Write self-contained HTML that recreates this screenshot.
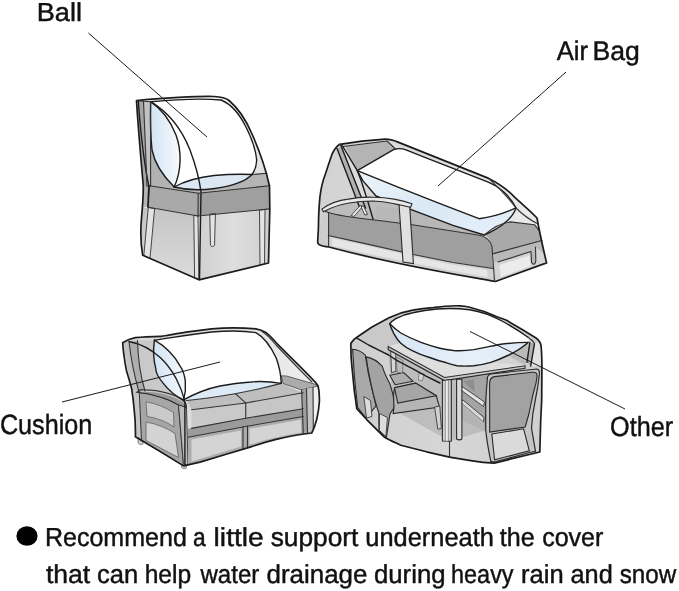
<!DOCTYPE html>
<html><head><meta charset="utf-8">
<style>
html,body{margin:0;padding:0;background:#fff;}
body{width:679px;height:591px;overflow:hidden;position:relative;font-family:"Liberation Sans",sans-serif;}
svg{position:absolute;left:0;top:0;display:block;}
text{font-family:"Liberation Sans",sans-serif;fill:#111;}
.ln{stroke:#1a1a1a;stroke-width:1;fill:none;}
.k{stroke:#1c1c1c;stroke-width:1.4;fill:none;stroke-linecap:round;stroke-linejoin:round;}
.k2{stroke:#1c1c1c;stroke-width:1.7;fill:none;stroke-linecap:round;stroke-linejoin:round;}
.t{stroke:#333;stroke-width:1.1;fill:none;stroke-linecap:round;stroke-linejoin:round;}
</style></head><body>
<svg width="679" height="591" viewBox="0 0 679 591">
<rect width="679" height="591" fill="#fff"/>
<g id="chair">
<defs>
<linearGradient id="cg1" x1="0" y1="0" x2="0" y2="1"><stop offset="0" stop-color="#c4c4c4"/><stop offset="1" stop-color="#dcdcdc"/></linearGradient>
<linearGradient id="cg2" x1="0" y1="0" x2="1" y2="0"><stop offset="0" stop-color="#d0d0d0"/><stop offset="0.5" stop-color="#dedede"/><stop offset="1" stop-color="#cfcfcf"/></linearGradient>
<linearGradient id="cg3" x1="0" y1="0" x2="1" y2="1"><stop offset="0" stop-color="#ffffff"/><stop offset="0.55" stop-color="#f0f0f0"/><stop offset="0.8" stop-color="#d2d2d2"/><stop offset="1" stop-color="#c6c6c6"/></linearGradient>
<linearGradient id="cb1" x1="0" y1="0" x2="1" y2="0"><stop offset="0" stop-color="#d3e4f4"/><stop offset="1" stop-color="#f6fafd"/></linearGradient>
</defs>
<!-- cover silhouette -->
<path d="M136.5,100.7 C160,98 200,96 214,96.5 C222,96.8 226,98 229,100.5 C238,108 246,120 252,134 C260,152 266,170 269.5,186 L269.8,209 L268.5,263 L199,279.8 L142.7,255.3 C140.8,245 140.3,232 141.5,218 C142.5,207 143.6,195 143.2,185 C141,160 138,125 136.5,100.7 Z" fill="url(#cg3)"/>
<!-- lower left face -->
<path d="M142.5,207 L198,216 L199,279.8 L142.7,255.3 L140.6,232 Z" fill="url(#cg1)"/>
<!-- lower front face -->
<path d="M198,216 L269.8,208.9 L268.5,263 L199,279.8 Z" fill="url(#cg2)"/>
<!-- chair back side -->
<path d="M137,100.8 L150.6,101.7 L150.6,186.5 L143.4,186.5 C141.5,160 138.5,125 137,100.8 Z" fill="#a6a6a6"/>
<path d="M143.5,101.3 L150.6,101.7 L150.6,186.5 L147,186.5 C146,160 144.5,125 143.5,101.3 Z" fill="#c2c2c2"/>
<!-- back front face below lens -->
<path d="M150.6,140 L150.6,186.5 L174.2,188 C165,178 155,165 150.6,140 Z" fill="#b2b2b2"/>
<!-- seat top -->
<path d="M149.5,185.8 L268.8,185.3 L268.8,186.5 L198.2,193.2 Z" fill="#b8b8b8"/>
<path d="M150,186.3 L176.5,186.3 L201,190.5 L252,174.5 L267,173.3 L269.5,186 L198.2,193.2 Z" fill="#b4b4b4"/>
<path class="t" d="M252,174.5 L267,173.3"/>
<!-- seat band -->
<path d="M143.3,186 L149.5,186 L148.4,207.3 L142.4,206.5 Z" fill="#b6b6b6"/>
<path d="M149.3,185.8 L198.2,193.2 L198,216 L148.3,207.3 Z" fill="#a9a9a9"/>
<path d="M198.2,193.2 L269.5,185.8 L269.8,208.9 L198,216 Z" fill="#9f9f9f"/>
<!-- legs -->
<path d="M148.3,207.5 L154.6,208.6 L150,258.3 L143.8,255.6 Z" fill="#e4e4e4" stroke="#444" stroke-width="1"/>
<path d="M193.8,215.3 L198,216 L198.8,279 L194.6,277.8 Z" fill="#e4e4e4" stroke="#444" stroke-width="1"/>
<path d="M209.8,214 L215.4,213.5 L214.6,244 C214.6,247.5 210.4,247.5 210.4,244 Z" fill="#e4e4e4" stroke="#444" stroke-width="1"/>
<path d="M259.5,210 L265,209.5 L264.5,263.8 L260,264.8 Z" fill="#e4e4e4" stroke="#444" stroke-width="1"/>
<!-- ball body -->
<path d="M150.6,101.7 C175,99.5 205,98.5 221,100 C231,104 240,115 246,127 C252,139 256,152 256.7,160 C256.5,166 254.5,171 252,174.5 C240,174 225,174.5 214,175.5 C200,177 186,180.5 174.2,187 C182,170 181.5,150 176,135 C170,120 160,108 150.6,101.7 Z" fill="#fff"/>
<!-- bottom ellipse (blue) -->
<path d="M174.2,187 C186,180.5 200,177 214,175.5 C225,174.5 240,174 252,174.5 C246,181 232,186 215,188.5 C200,190.5 186,190 174.2,187 Z" fill="#dbe8f4"/>
<!-- lens (blue) -->
<path d="M150.6,101.7 C160,108 170,120 176,135 C181.5,150 182,170 174.2,187 C164,177 155,165 152,150 C150.5,135 150.3,114 150.6,101.7 Z" fill="url(#cb1)"/>
<!-- ball outlines -->
<path class="k" d="M150.6,101.7 C175,99.5 205,98.5 221,100 C231,104 240,115 246,127 C252,139 256,152 256.7,160 C256.5,166 254.5,171 252,174.5"/>
<path class="k" d="M252,174.5 C240,174 225,174.5 214,175.5 C200,177 186,180.5 174.2,187"/>
<path class="k" d="M174.2,187 C186,190 200,190.5 215,188.5 C232,186 246,181 252,174.5"/>
<path class="k" d="M150.6,101.7 C160,108 170,120 176,135 C181.5,150 182,170 174.2,187"/>
<path class="k" d="M150.6,101.7 C150.3,114 150.5,135 152,150 C155,165 164,177 174.2,187"/>
<!-- seam arc -->
<path class="k" d="M150.6,101.7 C168,112 182,130 190,150 C196,166 199.5,180 201,192 L199.5,279.5"/>
<!-- structure lines -->
<path class="t" d="M149.3,185.8 L198.2,193.2 L269.5,185.8"/>
<path class="t" d="M148.3,207.3 L198,216 L269.8,208.9"/>
<path class="t" d="M149.4,185.8 L148.3,207.3"/>
<path class="t" d="M198.2,193.2 L198,216"/>
<path class="t" d="M150.6,101.7 L150.6,186.5"/>
<!-- cover outline -->
<path class="k2" d="M136.5,100.7 C160,98 200,96 214,96.5 C222,96.8 226,98 229,100.5 C238,108 246,120 252,134 C260,152 266,170 269.5,186 L269.8,209 L268.5,263 L199,279.8 L142.7,255.3 C140.8,245 140.3,232 141.5,218 C142.5,207 143.6,195 143.2,185 C141,160 138,125 136.5,100.7 Z"/>
<path class="t" d="M137,100.8 L150.6,101.7"/>
<path class="k" d="M138.3,101 C140,125 143.5,160 148.8,186 L147.8,207"/>
<path class="t" d="M143.5,101.3 C144.5,125 146,160 147,186.5"/>
</g>
<g id="lounger">
<defs>
<linearGradient id="lg1" x1="0" y1="0" x2="1" y2="0"><stop offset="0" stop-color="#d2d2d2"/><stop offset="0.25" stop-color="#d8d8d8"/><stop offset="1" stop-color="#ececec"/></linearGradient>
<linearGradient id="lg2" x1="0" y1="0" x2="1" y2="1"><stop offset="0" stop-color="#eef5fb"/><stop offset="0.5" stop-color="#d9e8f5"/><stop offset="1" stop-color="#e6f0f9"/></linearGradient>
</defs>
<!-- cover silhouette -->
<path d="M339.7,144.3 C350,142.5 370,140 384.8,139.2 C390,139 394,140.5 398,142.1 L488.7,178.4 C500,184 508,190 514.8,197.4 C522,204 530,211 537,218 C540,235 543.5,250 546.6,262.9 L495.4,281.5 C460,275 400,266 329,247 C322,246 317,245 317.7,241.3 C318.3,233 318.6,225 318.6,218.3 C318.8,210 319.2,204 319.9,197 C321,188 323,180 325.4,174 C328,166 330,160 332,154.2 C334,150 337,146 339.7,144.3 Z" fill="url(#lg1)"/>
<!-- backrest -->
<path d="M343,146.5 L387,141 L396,149.5 L357.3,170.7 L373,219 L362,214 Z" fill="#b4b4b4"/>
<path d="M337,148.5 L342,146.3 L365.5,208 L359.5,207 Z" fill="#b2b2b2"/>
<path d="M342,146.3 L345,146.3 L357.3,170.7 L373,219 L368,217 Z" fill="#dcdcdc"/>
<!-- interior behind arm -->
<path d="M325,211 C335,204 350,200 372,199 L400,203 L400,223 C380,221 350,218 325.3,211.6 Z" fill="#bcbcbc"/>
<!-- seat top strip -->
<path d="M376,207 L410.6,209.4 L453,225.3 L481.3,234.2 L477.8,235 L410.6,224.5 L376,218.5 Z" fill="#b7b7b7"/>
<!-- body band -->
<path d="M325.3,211.6 C335,215 348,217.5 377,220.2 L410.6,224.5 L477.8,235 C486,236 491,241 492,246.6 L493,268.5 L453,262.5 L413.3,254.5 L367.4,244.1 L328.2,235.5 Z" fill="#9f9f9f"/>
<!-- left leg + lower strip -->
<path d="M322.4,211 L328.6,212.5 L328.6,246.5 L321,244.5 L319.5,236 Z" fill="#cdcdcd"/>
<path d="M328.2,235.5 L367.4,244.1 L413.3,254.5 L453,262.5 L493,268.5 L494.5,280.6 L453,273 L413.3,265 L367.4,255.6 L329,247 Z" fill="#d2d2d2"/>
<path d="M332,238.2 L367.4,246.1 L413.3,256.5 L453,264.7 L487,270 L487.5,277 L453,271 L413.3,263 L367.4,253.6 L332,245.8 Z" fill="#e6e6e6"/>
<!-- front face -->
<path d="M484.2,235 C492,228 500,223 510.3,221.9 L534.5,224.7 L539,230.3 L542,240.5 L493.5,253.6 L492,246.6 C491,241 488,236.5 484.2,235 Z" fill="#a9a9a9"/>
<path d="M493.5,253.6 L542,240.5 L546.6,262.9 L495.4,281.5 Z" fill="#b9b9b9"/>
<path d="M498,262 L531,251.5 L531.5,262 C533,266 536,264 535.8,260 L535.5,247 L544.5,254 L546.6,262.9 L495.4,281.5 L494.5,262 Z" fill="#d4d4d4"/>
<path d="M499.5,265 L529.5,255.5 L530.5,266 L500.5,277 Z" fill="#ececec"/>
<!-- airbag side (blue) -->
<path d="M357.3,170.7 L398,187.2 L440,203.7 L479,218.7 C492,217 505,213 515.9,207.9 C514,216 503,227 484.2,235 L453,225.3 L410.6,209.4 L376,196 L362.8,180.6 Z" fill="url(#lg2)"/>
<!-- airbag top (white) -->
<path d="M357.3,170.7 L394,149.3 C398,148.3 402,148.3 406,149.8 L424.2,157.2 L487,181.6 C499,186 511,197 515.9,207.9 C505,213 492,217 479,218.7 L440,203.7 L398,187.2 Z" fill="#fff"/>
<path class="k" d="M357.3,170.7 L394,149.3 C398,148.3 402,148.3 406,149.8 L424.2,157.2 L487,181.6 C499,186 511,197 515.9,207.9 C505,213 492,217 479,218.7 L440,203.7 L398,187.2 Z"/>
<path class="k" d="M515.9,207.9 C514,216 503,227 484.2,235"/>
<path class="k" d="M357.3,170.7 L362.8,180.6 L376,196 L410.6,209.4 L453,225.3 L484.2,235"/>
<!-- backrest lines -->
<path class="t" d="M343,146.5 L387,141 L396,149.5"/>
<path class="k" d="M337,148.5 L359.5,207"/>
<path class="k" d="M341,145.8 L365.5,208"/>
<path class="k" d="M342.5,146 L357.3,170.7 L361.2,180.7 L368,202 L373,219"/>


<path d="M351,215.6 L360.3,205.5 L362.8,206.3 L354,216.4 Z" fill="#f2f2f2" stroke="#333" stroke-width="0.9"/>
<path d="M361,206.5 L363.5,206 L367.5,214.5 L364.8,215 Z" fill="#f2f2f2" stroke="#333" stroke-width="0.9"/>
<!-- band lines -->
<path class="t" d="M325.3,211.6 C335,215 348,217.5 377,220.2 L410.6,224.5 L477.8,235 C486,236 491,241 492,246.6 L494.5,280.6"/>
<path class="t" d="M328.2,235.5 L367.4,244.1 L413.3,254.5 L453,262.5 L493,268.5"/>
<path class="t" d="M484.2,235 C492,228 500,223 510.3,221.9 L534.5,224.7 L539,230.3"/>
<path class="t" d="M493.5,253.6 L542,240.5"/>
<path class="t" d="M498,262 L531,251.5 L531.5,262 C533,266 536,264 535.8,260 L535.5,247"/>
<path class="t" d="M328.6,212.5 L328.6,246.5"/>
<!-- armrest -->
<path d="M399,204 L409.6,205 L413.4,263.5 L403,262 Z" fill="#e0e0e0" stroke="#2a2a2a" stroke-width="1.1"/>
<path d="M321.9,209.1 C330,203 340,200 348.3,199.1 C356,197.5 365,197 373.2,197.2 C381,197.3 388,198 394.2,199.1 C400,200 406,201.5 412,203.8 L410.5,207.3 C405,205.8 399,204.6 393,203.5 C387,202.3 380,201.3 373,201 C365,201 357,201.5 349,203 C340,204.5 331,207.5 323.4,211.8 Z" fill="#e8e8e8" stroke="#2a2a2a" stroke-width="1.1"/>
<!-- cover outline -->
<path class="k2" d="M339.7,144.3 C350,142.5 370,140 384.8,139.2 C390,139 394,140.5 398,142.1 L488.7,178.4 C500,184 508,190 514.8,197.4 C522,204 530,211 537,218 C540,235 543.5,250 546.6,262.9 L495.4,281.5 C460,275 400,266 329,247 C322,246 317,245 317.7,241.3 C318.3,233 318.6,225 318.6,218.3 C318.8,210 319.2,204 319.9,197 C321,188 323,180 325.4,174 C328,166 330,160 332,154.2 C334,150 337,146 339.7,144.3 Z"/>
<path class="t" d="M339.7,144.3 L343,146.5"/>
<path class="t" d="M488.7,178.4 C497,186 510,200 516,208 C522,214 530,220 538,224"/>
</g>
<g id="sofa">
<defs>
<linearGradient id="sg1" x1="0" y1="0" x2="1" y2="0"><stop offset="0" stop-color="#d6d6d6"/><stop offset="0.75" stop-color="#e6e6e6"/><stop offset="1" stop-color="#f0f0f0"/></linearGradient>
<linearGradient id="sb1" x1="0" y1="0" x2="1" y2="0"><stop offset="0" stop-color="#d3e4f4"/><stop offset="1" stop-color="#f4f9fd"/></linearGradient>
</defs>
<!-- cover silhouette -->
<path d="M122.7,342.8 C127,340 131,338.5 135.4,337.7 C145,336.8 153,336.6 160.8,336.4 C164,336 166,335.6 168.4,335.2 C175,334 180,333 186.1,332.1 C195,330.8 203,329.8 211.5,328.8 C225,327.6 240,327.4 255.9,328.8 C260,329.5 263,330.8 266,332.6 C270,335.5 273,339 276.2,342.8 L301.6,368.2 L311.7,378.3 C314,380.5 316.5,383 318.1,386 C319.3,391 319.5,396 319.4,401.2 C319,408 318,414 316.8,419 C315.8,423 314.5,427 313,430.4 L311.7,433 C300,434.5 288,436.5 276.2,439.3 C267,441.5 259,444 250.8,446.9 L225.4,454.5 L200,462.1 L183.6,465.9 L160.8,451.9 L135.4,436.7 C135.6,428 135.2,418 134.1,408.8 C133.5,402 132.7,395 131.6,388.5 C130,382 128,376 126.5,370.7 C125.3,365 124.5,360 124,355.5 C123.3,351 122.9,347 122.7,342.8 Z" fill="url(#sg1)"/>
<!-- sofa back: side strips + front -->
<path d="M124,343 L129,341.5 C131,360 135,378 139,392 L133,391 C130,378 125.5,362 124,343 Z" fill="#c2c2c2"/>
<path d="M129,341.5 L137.5,340.5 C138,360 141,378 145,391 L139,392 C135,378 131,360 129,341.5 Z" fill="#adadad"/>
<path d="M137.5,340.5 L154.4,340.2 L170,392 L183.6,400 L186,404 L145,391 C141,378 138,360 137.5,340.5 Z" fill="#c9c9c9"/>
<!-- left arm side -->
<path d="M133,391 L139.3,392.5 L141.5,440.5 L135.4,436.7 C135.5,420 134.5,405 133,391 Z" fill="#c6c6c6"/>
<path d="M139.3,392.5 C150,393.5 165,397 178.5,405 L183.6,465.9 L141.5,440.5 Z" fill="#a6a6a6" stroke="#333" stroke-width="1"/>
<path d="M146,401.8 C156,403.5 166,407.5 173.5,412.5 L174,427 C166,421.5 157,418 147,416.5 Z" fill="#cacaca" stroke="#555" stroke-width="0.7"/>
<path d="M146,422 C157,424 167,428 175,433.5 L178.5,457.5 L146,440.5 Z" fill="#d3d3d3" stroke="#555" stroke-width="0.7"/>
<!-- left arm top -->
<path d="M136.6,392.3 C139,390 141,389.5 143,389.7 C150,389.7 156,390.3 160.8,391.5 C168,393 174,395 178.5,397.3 C182,399.5 184.5,401.5 186,403.7 L186.5,407.5 L178.5,405 C172,401 166,398.8 160.8,397.3 C152,394.5 144,393 136.6,392.3 Z" fill="#989898" stroke="#2a2a2a" stroke-width="1.1"/>
<path d="M141,391.3 C150,391.2 156,391.8 160.8,393 C168,394.5 174,396.5 178.5,399 C181,400.5 183,402 184.5,403.5" fill="none" stroke="#cfcfcf" stroke-width="1"/>
<!-- left arm front -->
<path d="M178.5,405 L186.5,407.5 L188,464.5 L183.6,465.9 Z" fill="#bdbdbd" stroke="#333" stroke-width="0.9"/>
<!-- feet -->
<path d="M138,437.5 L143,440.5 L143,444 C141,445.5 138.5,444.5 138,442.5 Z" fill="#c8c8c8" stroke="#555" stroke-width="0.6"/>
<path d="M181.5,464.5 L186.5,465 L186.5,468 C185,469.3 182.5,469 181.5,467.5 Z" fill="#c8c8c8" stroke="#555" stroke-width="0.6"/>
<!-- seat cushions -->
<path d="M186.5,400 L281.3,383.4 L303.3,392.8 L245.7,403 L191.5,409.8 Z" fill="#bebebe"/>
<path d="M191.5,409.8 L245.7,403 L245.7,418.2 L191.5,428.4 Z" fill="#c9c9c9"/>
<path d="M245.7,403 L303.3,392.8 L303.3,408.8 L245.7,418.2 Z" fill="#c6c6c6"/>
<!-- band -->
<path d="M188,428.8 L245.7,418.2 L303.3,408.8 L303.3,416.5 L245.7,426.5 L188,437.2 Z" fill="#9b9b9b"/>
<!-- lower panels -->
<path d="M188,437.2 L245.7,426.5 L303.3,416.5 L311.7,433 C300,434.5 288,436.5 276.2,439.3 C267,441.5 259,444 250.8,446.9 L200,462.1 L188,464.5 Z" fill="#acacac"/>
<path d="M191.5,439.5 L241,430.5 L241,446.5 L191.5,461.5 Z" fill="#d4d4d4"/>
<path d="M249.5,428.7 L301,419.8 L301,432.5 C285,435 265,440 249.5,444.5 Z" fill="#d4d4d4"/>
<!-- right arm -->
<path d="M281.3,375.8 L286.5,376 L317,384.8 L318.1,386 L301.6,390 L283,383.5 Z" fill="#ababab" stroke="#444" stroke-width="0.8"/>
<path d="M301.6,390 L306.5,388.8 L307.5,431 L303.3,433 Z" fill="#9f9f9f"/>
<path d="M306.5,388.8 L313,387.3 L313.5,428 L311.7,433 L307.5,433.5 Z" fill="#c3c3c3"/>
<path class="t" d="M301.6,390 L303.3,433"/>
<path class="t" d="M306.5,388.8 L307.5,433"/>
<path class="t" d="M313,387.3 L313.3,429"/>
<!-- cushion lines -->
<path class="t" d="M191.5,409.8 L245.7,403 L303.3,392.8"/>
<path class="t" d="M191.5,428.4 L245.7,418.2 L303.3,408.8"/>
<path class="t" d="M188,437.2 L245.7,426.5 L303.3,416.5"/>
<path class="t" d="M245.7,403 L245.7,418.2"/>
<path class="t" d="M233,391.5 C238,396 242,399.5 245.7,403"/>
<path class="t" d="M243,426.8 L243,448.5 M247.5,426 L247.5,447"/>
<!-- big cushion body (white) -->
<path d="M154.4,340.2 C170,338 190,334.5 211.5,332 C228,330.5 243,330.5 255.9,332.6 C264,337 271,347 276.2,358 C279.5,367 281,376 281.3,383.4 C270,381.5 258,381.3 250.8,382 C240,382.6 230,384 220,386 C207,388.7 195,393.5 183.6,399.9 C187,388 186,374 179.8,365.6 C175,356 165,346 154.4,340.2 Z" fill="#fff"/>
<!-- blue bottom -->
<path d="M183.6,399.9 C195,393.5 207,388.7 220,386 C230,384 240,382.6 250.8,382 C258,381.3 270,381.5 281.3,383.4 C266,387.5 250,391 235,393.7 C220,396.3 203,398.8 186.5,400.5 Z" fill="#dde9f5"/>
<path class="t" d="M281.3,383.4 C266,387.5 250,391 235,393.7 C220,396.3 203,398.8 186.5,400.5"/>
<!-- lens -->
<path d="M154.4,340.2 C165,346 175,356 179.8,365.6 C186,374 187,388 183.6,399.9 C178,397.5 170,392 163.3,383.4 C158,377 155.5,372 155.7,368.1 C153.5,360 152.8,352 154.4,340.2 Z" fill="url(#sb1)"/>
<path class="k" d="M154.4,340.2 C170,338 190,334.5 211.5,332 C228,330.5 243,330.5 255.9,332.6 C264,337 271,347 276.2,358 C279.5,367 281,376 281.3,383.4 C270,381.5 258,381.3 250.8,382 C240,382.6 230,384 220,386 C207,388.7 195,393.5 183.6,399.9"/>
<path class="k" d="M154.4,340.2 C165,346 175,356 179.8,365.6 C186,374 187,388 183.6,399.9 C178,397.5 170,392 163.3,383.4 C158,377 155.5,372 155.7,368.1 C153.5,360 152.8,352 154.4,340.2 Z"/>
<!-- seam arc -->
<path class="k" d="M129,341.5 C142,344 152,350 160.8,358 C167,364 172,371 176,378.3 C180,386 183,394 184.9,401.1 L184.9,465.5"/>
<!-- back strips lines -->
<path class="t" d="M129,341.5 C131,360 135,378 139,392"/>
<path class="t" d="M137.5,340.5 C138,360 141,378 145,391"/>
<!-- cover outline -->
<path class="t" d="M262,331.5 C268,335 272,340 276,345 L300,370 L312,382"/>
<path d="M122.7,342.8 C127,340 131,338.5 135.4,337.7 C145,336.8 153,336.6 160.8,336.4 C164,336 166,335.6 168.4,335.2 C175,334 180,333 186.1,332.1 C195,330.8 203,329.8 211.5,328.8 C225,327.6 240,327.4 255.9,328.8 C260,329.5 263,330.8 266,332.6 C270,335.5 273,339 276.2,342.8 L301.6,368.2 L311.7,378.3 C314,380.5 316.5,383 318.1,386 C319.3,391 319.5,396 319.4,401.2 C319,408 318,414 316.8,419 C315.8,423 314.5,427 313,430.4 L311.7,433 C300,434.5 288,436.5 276.2,439.3 C267,441.5 259,444 250.8,446.9 L225.4,454.5 L200,462.1 L183.6,465.9 L160.8,451.9 L135.4,436.7 C135.6,428 135.2,418 134.1,408.8 C133.5,402 132.7,395 131.6,388.5 C130,382 128,376 126.5,370.7 C125.3,365 124.5,360 124,355.5 C123.3,351 122.9,347 122.7,342.8 Z" class="k2"/>
</g>
<g id="table">
<defs>
<linearGradient id="tg1" x1="0" y1="0" x2="1" y2="0"><stop offset="0" stop-color="#cfcfcf"/><stop offset="0.5" stop-color="#d6d6d6"/><stop offset="1" stop-color="#d0d0d0"/></linearGradient>
<linearGradient id="tb1" x1="0" y1="0" x2="1" y2="0"><stop offset="0" stop-color="#d6e6f5"/><stop offset="0.6" stop-color="#e6f0f9"/><stop offset="1" stop-color="#dbe9f5"/></linearGradient>
</defs>
<path d="M350.9,343.2 C353,340 355,338.3 356.8,337.2 L372,327 L389,317.8 C397,314 405,311.5 412.7,310.2 C420,308.7 427,307.9 433,307.6 C442,306.3 452,305.6 460,305.8 C463,305.9 466,306.3 468.8,307 C479,309.5 489,313 497.6,317 L506,320 L523,330 L536,338 C538.5,339.8 540.5,342.5 541,345.5 C541.7,352 541.9,358 541.9,366 L541.7,400 L540.7,420.8 L539.8,452 L494.2,463.1 C485,463 478,462 470.7,460.7 L449.5,457.1 L426.5,451.8 L400.8,445.2 C395,442.5 389,440 383.8,436.7 L366.9,419.8 L356.8,408.8 C356,402 355,396 354.3,390.8 L351.8,365.4 C351,358 350.8,350 350.9,343.2 Z" fill="url(#tg1)"/>
<path d="M356.8,338.2 L372,327 L389,317.8 L412.7,310.2 L390,324 L400,343 L388.6,355 Z" fill="#c9c9c9"/>
<!-- inner shade (under table) -->
<path d="M388,350 L444,380 L487,375 L487,430 L449.5,441 L394,410 Z" fill="#bdbdbd"/>
<!-- chair 1 -->
<path d="M352.6,349.3 C357,349.5 362,352 365.3,355.2 C367,368 370,382 372.9,392.5 L376,406 L366,418 L357.7,407.7 C355.5,390 353.5,368 352.6,349.3 Z" fill="#a9a9a9" stroke="#2a2a2a" stroke-width="1.1"/>
<path d="M363.8,396.5 L370.5,400.5 L372,416.5 L366.5,418 Z" fill="#dcdcdc" stroke="#3a3a3a" stroke-width="0.9"/>
<!-- chair 2 -->
<path d="M366.2,356.9 C372,358 378,361.5 382.3,366.3 C384,372 387,378.5 390,384 C392,390 393.5,396 394.5,403 L394,407.7 L390,414 L386.4,437.5 L379,431 L378.8,412.8 C376,405 374.5,399 372.9,392.5 C370,380 367.5,368 366.2,356.9 Z" fill="#a3a3a3" stroke="#2a2a2a" stroke-width="1.1"/>
<path d="M379.5,413.5 L387.5,417.5 L385.8,436.5 L379.5,430.5 Z" fill="#dcdcdc" stroke="#3a3a3a" stroke-width="0.9"/>
<!-- chair 1 seat -->
<path d="M389.8,375.2 L403.7,372.5 L413,381.2 L395.1,384.7 Z" fill="#adadad" stroke="#2a2a2a" stroke-width="1.1"/>
<!-- chair 2 seat -->
<path d="M394,407.7 L393.5,396 L394.5,387.8 L415.7,383.1 L436.2,395.7 L439.5,407 L393.1,413.6 Z" fill="#b5b5b5" stroke="#2a2a2a" stroke-width="1.1"/>
<path d="M394.5,387.8 L415.7,383.1 L436.2,395.7 L397.8,403 Z" fill="#a6a6a6" stroke="#2a2a2a" stroke-width="1.1"/>
<path d="M434.6,407 L439.8,406 L441.4,428.5 L437.8,429.2 Z" fill="#d0d0d0" stroke="#3a3a3a" stroke-width="0.9"/>
<!-- back table legs -->
<path d="M390.7,350.8 L395.8,352 L395.8,371.5 L391.5,372.5 Z" fill="#d6d6d6" stroke="#3a3a3a" stroke-width="0.9"/>
<path d="M396.5,357 L403,360.5 L402.5,373 L397,372 Z" fill="#bcbcbc" stroke="#555" stroke-width="0.6"/>
<path d="M419,373 L424.5,374 L422,381 L418.5,380 Z" fill="#d8d8d8" stroke="#555" stroke-width="0.6"/>
<!-- armchair behind big chair -->
<path d="M461,378.5 L486.5,375.5 L486.5,432 L468,422 L461,400 Z" fill="#a4a4a4"/>
<path d="M456,386.5 L460,385 L484.5,402 L483.5,406.5 Z" fill="#e2e2e2" stroke="#3a3a3a" stroke-width="0.9"/>
<path d="M459.5,401.5 L463,400 L484,417.5 L483.5,422 Z" fill="#dadada" stroke="#3a3a3a" stroke-width="0.9"/>
<path d="M462,403.5 L483.5,422 L485,431.5 L462,420 Z" fill="#b4b4b4"/>
<path d="M463,381 L474,379.8 L474.5,392.5 Z" fill="#8f8f8f"/>
<!-- big right chair -->
<path d="M487,378.5 C487.6,375.5 488.6,374.2 490.8,373.8 L537,369 C539.5,369.5 539.8,372 539.3,375 C538.3,384 537,392 535.5,399 C533.5,408 532,418 531.5,428 L535.5,451.3 L529.7,452.5 L494.2,462 L490.8,461.4 C488.5,450 486.5,440 485.7,429.2 L485.7,403.8 C486,394 486.6,386 487.4,378.5 Z" fill="#c4c4c4" stroke="#2a2a2a" stroke-width="1.2"/>
<path d="M489.6,383 C489.8,379 491,377.3 494.5,376.6 L532,372.3 C536.5,372 537.3,373.5 537,377 C536.5,381 535.7,385 534.7,388 C533.3,393 532,398.5 531.2,403 C530.3,407 529.7,410 529,413.5 L525.2,427 L489.7,432 Z" fill="#a2a2a2" stroke="#2a2a2a" stroke-width="1.1"/>
<path d="M491.8,434 L523.6,428.8 L529.3,450.8 L494.6,459.8 Z" fill="#dadada" stroke="#2a2a2a" stroke-width="1.1"/>
<!-- far-right chair top -->
<path d="M528,342.6 L508,355.6 L525,365.3 L527,362.3 Z" fill="#bbbbbb"/>
<path d="M534.5,343.6 L538.5,341.5 L541.3,347 L541.6,366.5 L530.7,366 Z" fill="#e2e2e2"/>
<path d="M529.8,342.7 L534.5,343.6 L530.7,366 L527,362.2 Z" fill="#b0b0b0"/>
<path class="k" d="M529.8,342.7 L527,362.2"/>
<path class="k" d="M534.5,343.6 L530.7,366"/>
<!-- table top -->
<path d="M388.2,346.5 L400,343 L440,363 L490,362 L525,365.5 L444.5,377.5 Z" fill="#dedede"/>
<path d="M388.2,346.5 L444.5,377.5 L525,365.8 L525,368.3 L444.5,380.6 L388.2,349.6 Z" fill="#c9c9c9" stroke="#2a2a2a" stroke-width="1.1"/>
<!-- front table legs -->
<path d="M442.4,380.5 L451.3,379.5 L451.3,441.2 L442.4,441 Z" fill="#d2d2d2" stroke="#2a2a2a" stroke-width="1.1"/>
<path d="M445.3,380.5 L448.3,380.3 L448.3,441.2 L445.3,441.2 Z" fill="#efefef" stroke="#555" stroke-width="0.6"/>
<path d="M456.6,379.5 L461.9,379 L461.9,438.5 C461.9,440.3 456.6,440.3 456.6,438.5 Z" fill="#dadada" stroke="#2a2a2a" stroke-width="1.1"/>
<!-- dome blue -->
<path d="M389.8,324 C391,328 392.5,331 394,333.8 C396,337.5 398,340.5 400.8,343.2 C404.5,346.5 408,349 412.7,350.8 C418,353.5 423,355.5 429.6,357.5 C435,359.5 441,361.5 446.5,362.8 C450,364 454,365.2 457,365.7 C462,366.2 468,366.2 473.8,365.7 C480,365 485,364 490.8,362.3 C497,360.5 502,358.3 507.7,355.5 C516,351.5 523,347 528,342.4 C518,342.5 508,343.2 499.2,344.5 C490,346.3 482,348.2 473.8,349.6 C467,350.6 460,351 453.5,350.5 C449,350 444,349.2 439.8,348.2 C433,346.5 427,344.5 421,342.3 C414,339.7 407,336.5 400.8,333 C397,330.5 393,327 389.8,324 Z" fill="url(#tb1)"/>
<!-- dome white -->
<path id="domew" d="M389.8,323.7 C391.5,321.5 393.5,320 395.8,318.6 C400,316.3 406,314 412.7,312.7 C420,311 428,309.7 437.2,309 C448,308.2 459,308.5 469.6,309.7 C481,311.5 492,315.5 502,321 C511,326 520,331.5 528,337.3 C529,339 529,340.5 528,342.4 C518,342.5 508,343.2 499.2,344.5 C490,346.3 482,348.2 473.8,349.6 C467,350.6 460,351 453.5,350.5 C449,350 444,349.2 439.8,348.2 C433,346.5 427,344.5 421,342.3 C414,339.7 407,336.5 400.8,333 C397,330.5 393,327 389.8,323.7 Z" fill="#fff"/>
<path class="k" d="M389.8,323.7 C391.5,321.5 393.5,320 395.8,318.6 C400,316.3 406,314 412.7,312.7 C420,311 428,309.7 437.2,309 C448,308.2 459,308.5 469.6,309.7 C481,311.5 492,315.5 502,321 C511,326 520,331.5 528,337.3"/>
<path class="k" d="M389.8,323.7 C393,327 397,330.5 400.8,333 C407,336.5 414,339.7 421,342.3 C427,344.5 433,346.5 439.8,348.2 C444,349.2 449,350 453.5,350.5 C460,351 467,350.6 473.8,349.6 C482,348.2 490,346.3 499.2,344.5 C508,343.2 518,342.5 528,342.4"/>
<path class="k" d="M389.8,324 C391,328 392.5,331 394,333.8 C396,337.5 398,340.5 400.8,343.2 C404.5,346.5 408,349 412.7,350.8 C418,353.5 423,355.5 429.6,357.5 C435,359.5 441,361.5 446.5,362.8 C450,364 454,365.2 457,365.7 C462,366.2 468,366.2 473.8,365.7 C480,365 485,364 490.8,362.3 C497,360.5 502,358.3 507.7,355.5 C516,351.5 523,347 528,342.4"/>
<!-- inner cover lines -->
<path class="k" d="M356.8,338.2 L368.6,345 L380.3,350.9 L388.6,355 L396.8,360.3 L415.7,370.3 L425,375.6 L440,383"/>
<path class="t" d="M449.5,441.5 L449.5,457"/>
<path class="t" d="M528,337.3 C531,339 533,341 534.5,343.6"/>
<!-- cover outline -->
<path d="M350.9,343.2 C353,340 355,338.3 356.8,337.2 L372,327 L389,317.8 C397,314 405,311.5 412.7,310.2 C420,308.7 427,307.9 433,307.6 C442,306.3 452,305.6 460,305.8 C463,305.9 466,306.3 468.8,307 C479,309.5 489,313 497.6,317 L506,320 L523,330 L536,338 C538.5,339.8 540.5,342.5 541,345.5 C541.7,352 541.9,358 541.9,366 L541.7,400 L540.7,420.8 L539.8,452 L494.2,463.1 C485,463 478,462 470.7,460.7 L449.5,457.1 L426.5,451.8 L400.8,445.2 C395,442.5 389,440 383.8,436.7 L366.9,419.8 L356.8,408.8 C356,402 355,396 354.3,390.8 L351.8,365.4 C351,358 350.8,350 350.9,343.2 Z" class="k2"/>
</g>
<g id="leaders">
<line class="ln" x1="88.4" y1="33" x2="207" y2="137"/>
<line class="ln" x1="566" y1="72" x2="438" y2="186"/>
<line class="ln" x1="62" y1="402" x2="220" y2="362"/>
<line class="ln" x1="625" y1="409" x2="470" y2="331.5"/>
</g>
<g id="labels" opacity="0.999" style="text-rendering:geometricPrecision">
<text transform="translate(44.94,546.2) scale(0.9625,1)" font-size="26" stroke="#111" stroke-width="0.45">Recommend</text>
<text transform="translate(193.03,546.2) scale(0.8780,1)" font-size="26" stroke="#111" stroke-width="0.45">a</text>
<text transform="translate(213.59,546.2) scale(1.0864,1)" font-size="26" stroke="#111" stroke-width="0.45">little</text>
<text transform="translate(270.68,546.2) scale(1.0117,1)" font-size="26" stroke="#111" stroke-width="0.45">support</text>
<text transform="translate(365.35,546.2) scale(0.9768,1)" font-size="26" stroke="#111" stroke-width="0.45">underneath</text>
<text transform="translate(499.82,546.2) scale(0.9670,1)" font-size="26" stroke="#111" stroke-width="0.45">the</text>
<text transform="translate(542.14,546.2) scale(0.9634,1)" font-size="26" stroke="#111" stroke-width="0.45">cover</text>
<text transform="translate(45.90,583) scale(1.0217,1)" font-size="26" stroke="#111" stroke-width="0.45">that</text>
<text transform="translate(96.91,583) scale(0.9830,1)" font-size="26" stroke="#111" stroke-width="0.45">can</text>
<text transform="translate(144.68,583) scale(0.9464,1)" font-size="26" stroke="#111" stroke-width="0.45">help</text>
<text transform="translate(200.50,583) scale(0.9243,1)" font-size="26" stroke="#111" stroke-width="0.45">water</text>
<text transform="translate(266.50,583) scale(0.9977,1)" font-size="26" stroke="#111" stroke-width="0.45">drainage</text>
<text transform="translate(373.90,583) scale(0.9916,1)" font-size="26" stroke="#111" stroke-width="0.45">during</text>
<text transform="translate(451.06,583) scale(0.9011,1)" font-size="26" stroke="#111" stroke-width="0.45">heavy</text>
<text transform="translate(521.08,583) scale(0.9822,1)" font-size="26" stroke="#111" stroke-width="0.45">rain</text>
<text transform="translate(570.52,583) scale(0.9748,1)" font-size="26" stroke="#111" stroke-width="0.45">and</text>
<text transform="translate(619.73,583) scale(0.9307,1)" font-size="26" stroke="#111" stroke-width="0.45">snow</text>
<text transform="translate(36.77,21) scale(1.0417,1)" font-size="26" stroke="#111" stroke-width="0.45">Ball</text>
<text transform="translate(556.64,60.3) scale(0.9568,1)" font-size="26.8" stroke="#111" stroke-width="0.45">Air</text>
<text transform="translate(592.51,60.3) scale(0.9920,1)" font-size="26.8" stroke="#111" stroke-width="0.45">Bag</text>
<text transform="translate(-0.06,433.5) scale(0.9052,1)" font-size="27.8" stroke="#111" stroke-width="0.45">Cushion</text>
<text transform="translate(610.10,435.6) scale(0.9142,1)" font-size="27.6" stroke="#111" stroke-width="0.45">Other</text>
<ellipse cx="27" cy="536" rx="10.6" ry="9.8" fill="#000"/>
</g>
</svg>
</body></html>
